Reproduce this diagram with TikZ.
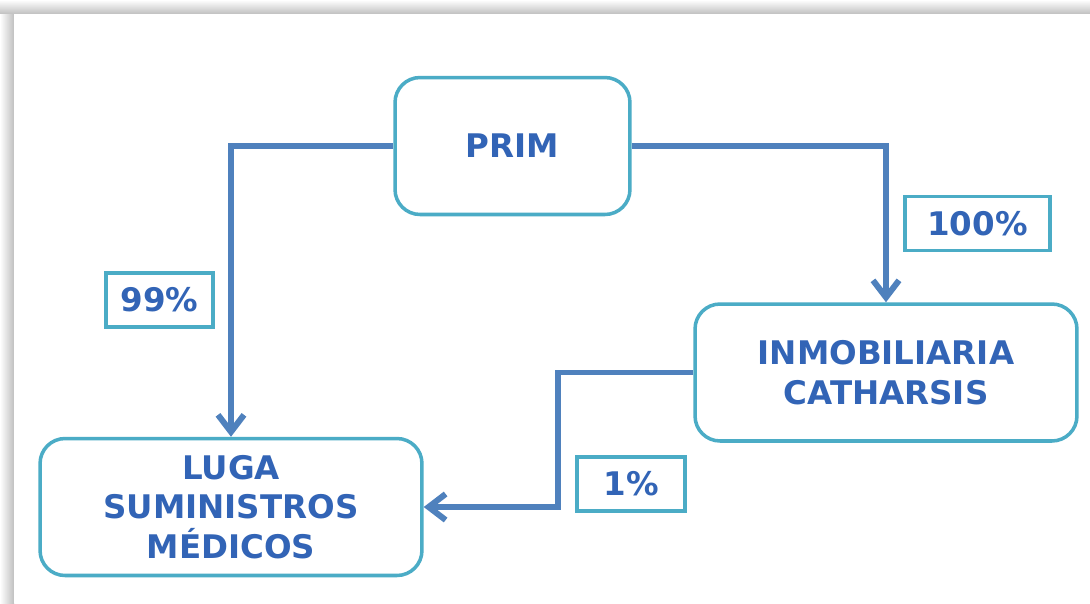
\documentclass[tikz,border=0pt]{standalone}
\usepackage{fontspec}
\setsansfont{DejaVu Sans}
\usepackage{tikz}
\usetikzlibrary{arrows.meta}
\definecolor{boxline}{RGB}{75,172,198}
\definecolor{arrowblue}{RGB}{79,129,189}
\definecolor{textblue}{RGB}{50,100,182}
\tikzset{
  company/.style={draw=boxline, line width=2pt, rounded corners=0.5cm, fill=white,
    minimum height=2.74cm, align=center, text=textblue,
    font=\sffamily\bfseries\fontsize{18.5}{22.5}\selectfont},
  stakebox/.style={draw=boxline, line width=1.9pt, fill=white, minimum height=1.08cm,
    text=textblue, font=\sffamily\bfseries\fontsize{18.5}{22.5}\selectfont},
  ownarrow/.style={draw=arrowblue, line width=3.4pt,
    -{Straight Barb[length=3.4mm, width=5.2mm]}}
}
\newcommand{\companynode}[4] {\node at (#1) (#2) [company, minimum width=#3] {#4};}
\newcommand{\stakenode}[4] {\node at (#1) (#2) [stakebox, minimum width=#3] {#4};}

\begin{document}
\begin{tikzpicture}[x=0.02cm, y=-0.02cm]
\useasboundingbox (0,0) rectangle (1090,603);
% page shadow
\shade[top color=white, bottom color=black!25] (0,0) rectangle (1090,14);
\shade[left color=white, right color=black!25] (0,14) rectangle (14,603);
\fill[white] (14,14) rectangle (1090,603);

\companynode {512.5,146} {prim} {4.7cm} {PRIM};
\companynode {886,372.5} {inmob} {7.64cm} {INMOBILIARIA\\CATHARSIS};
\companynode {231,507} {luga} {7.64cm} {LUGA\\SUMINISTROS\\MÉDICOS};

\stakenode {159.5,300} {s99} {2.14cm} {99\%};
\stakenode {977.5,223.5} {s100} {2.9cm} {100\%};
\stakenode {631,484} {s1} {2.16cm} {1\%};

\draw [ownarrow] (prim.west) -| (luga.north);
\draw [ownarrow] (prim.east) -| (inmob.north);
\draw [ownarrow] (inmob.west) -- ++(-135,0) |- (luga.east);
\end{tikzpicture}
\end{document}
